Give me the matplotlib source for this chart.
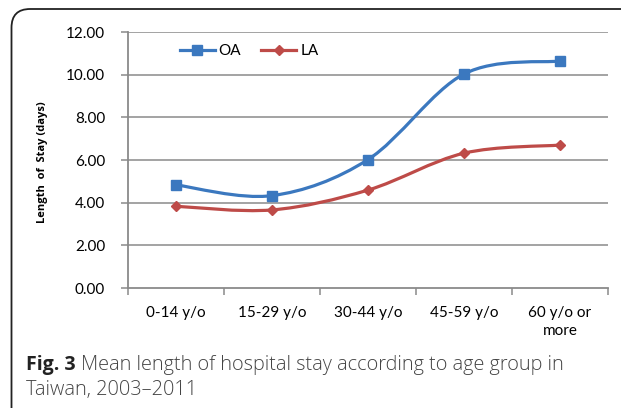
import matplotlib
matplotlib.use("Agg")
import matplotlib.pyplot as plt
import numpy as np
from matplotlib.path import Path
from matplotlib.patches import PathPatch, FancyBboxPatch
from matplotlib.lines import Line2D

# данные с графика
groups = ["0-14 y/o", "15-29 y/o", "30-44 y/o", "45-59 y/o", "60 y/o or\nmore"]
oa = [4.83, 4.33, 6.02, 10.03, 10.64]
la = [3.83, 3.66, 4.59, 6.32, 6.70]
y_ticks = [0, 2, 4, 6, 8, 10, 12]

blue = "#3b78bf"
red = "#be4b48"
grid_c = "#8a8a8a"
W, H = 621, 408


def smooth_path(xs, ys):
    # сглаживание как в Excel (Catmull-Rom через кривые Безье)
    pts = np.column_stack([xs, ys]).astype(float)
    n = len(pts)
    verts = [pts[0]]
    codes = [Path.MOVETO]
    for i in range(n - 1):
        p0 = pts[i - 1] if i > 0 else pts[i]
        p1 = pts[i]
        p2 = pts[i + 1]
        p3 = pts[i + 2] if i + 2 < n else pts[i + 1]
        c1 = p1 + (p2 - p0) / 6
        c2 = p2 - (p3 - p1) / 6
        verts += [c1, c2, p2]
        codes += [Path.CURVE4] * 3
    return Path(verts, codes)


fig = plt.figure(figsize=(W / 100, H / 100), dpi=100)
fig.patch.set_facecolor("white")

# рамка со скруглённым углом
frame = FancyBboxPatch((11.5 / W, -20 / H), 640 / W, (H - 9 + 20) / H,
                       boxstyle="round,pad=0,rounding_size=0.03",
                       transform=fig.transFigure, facecolor="none",
                       edgecolor="#222222", linewidth=1.3, mutation_aspect=W / H)
fig.patches.append(frame)

ax = fig.add_axes([128 / W, (H - 288) / H, 480 / W, 256 / H])
x = np.arange(len(groups))
ax.set_xlim(-0.5, len(groups) - 0.5)
ax.set_ylim(0, 12)

for yv in y_ticks[1:]:
    ax.axhline(yv, color=grid_c, lw=1.1, zorder=0)

for vals, col, mk, ms in [(oa, blue, "s", 6.8), (la, red, "D", 5.2)]:
    ax.add_patch(PathPatch(smooth_path(x, vals), facecolor="none",
                           edgecolor=col, lw=2.3, zorder=3))
    ax.plot(x, vals, ls="none", marker=mk, ms=ms, color=col, zorder=4)

for s in ["top", "right"]:
    ax.spines[s].set_visible(False)
for s in ["left", "bottom"]:
    ax.spines[s].set_color(grid_c)
    ax.spines[s].set_linewidth(1.3)

tick_font = dict(family=["Lato", "DejaVu Sans"], size=11)
ax.set_yticks(y_ticks)
ax.set_yticklabels([f"{v:.2f}" for v in y_ticks], fontdict=tick_font)
ax.tick_params(axis="y", length=5, width=1.1, color=grid_c, pad=11.5)

ax.set_xticks(np.arange(-0.5, len(groups)), labels=[""] * (len(groups) + 1))
ax.tick_params(axis="x", which="major", length=5, width=1.1, color=grid_c)
ax.set_xticks(x, minor=True)
ax.set_xticklabels(groups, minor=True, fontdict=tick_font, linespacing=1.4)
ax.tick_params(axis="x", which="minor", length=0, pad=13)

fig.text(43 / W, 1 - 162 / H, "Length  of  Stay (days)", rotation=90,
         ha="center", va="center", fontsize=8, fontweight="bold",
         family=["Open Sans", "DejaVu Sans"])

# легенда
handles = [Line2D([], [], color=blue, lw=2.3, marker="s", ms=6.8),
           Line2D([], [], color=red, lw=2.3, marker="D", ms=5.2)]
fig.legend(handles, ["OA", "LA"], loc="center left",
           bbox_to_anchor=(166 / W, 1 - 51 / H), ncol=2, frameon=False,
           handlelength=2.3, handletextpad=0.25, columnspacing=1.3,
           prop=dict(family=["Lato", "DejaVu Sans"], size=11))

# подпись
cap_font = ["Open Sans", "DejaVu Sans"]
t = fig.text(26 / W, 1 - 365 / H, "Fig. 3", fontsize=14, fontweight="bold",
             color="#222222", family=cap_font, va="center")
fig.canvas.draw()
bb = t.get_window_extent()
fig.text(bb.x1 / W + 5 / W, 1 - 365 / H,
         "Mean length of hospital stay according to age group in",
         fontsize=14.3, fontweight="light", color="#444444", family=cap_font,
         va="center")
fig.text(26 / W, 1 - 390 / H, "Taiwan, 2003\u20132011", fontsize=14.3,
         fontweight="light", color="#444444", family=cap_font, va="center")

fig.savefig("out.png", dpi=100)
